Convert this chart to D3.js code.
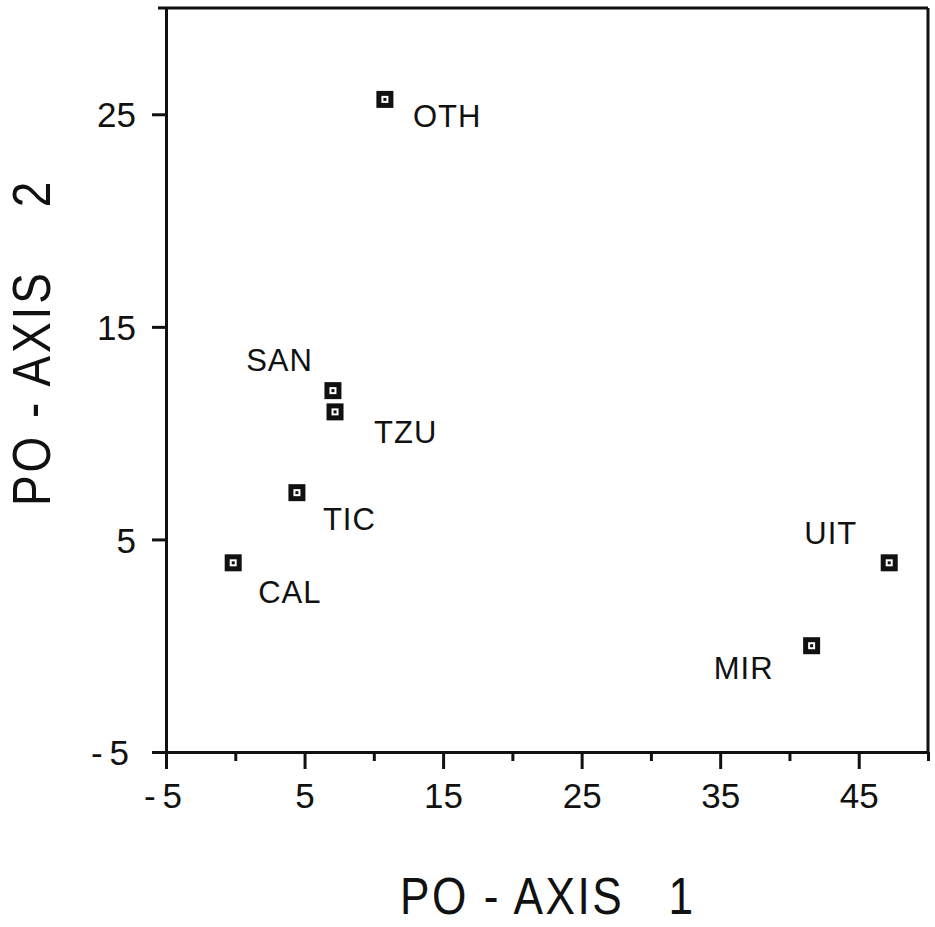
<!DOCTYPE html>
<html>
<head>
<meta charset="utf-8">
<script src="https://cdn.jsdelivr.net/npm/d3@7"></script>
<style>
  body { margin: 0; background: #fff; }
  svg text { font-family: "Liberation Sans", Arial, sans-serif; fill: #111; }
  .axis path, .axis line { stroke: #111; stroke-width: 3; }
</style>
</head>
<body>
<div id="container"></div>
<script>
// sites on the two polar ordination axes
const sites = ["OTH", "SAN", "TZU", "TIC", "CAL", "UIT", "MIR"];
const axis1 = [10.8, 7.05, 7.2, 4.45, -0.15, 47.2, 41.6];
const axis2 = [25.7, 12.0, 11.0, 7.2, 3.9, 3.9, 0.0];

const xMajor = [-5, 5, 15, 25, 35, 45];
const xMinor = [0, 10, 20, 30, 40, 50];
const yMajor = [-5, 5, 15, 25];

// where each label sits relative to its point
const labelPos = {
  OTH: { dx: 28, dy: 28, anchor: "start" },
  SAN: { dx: -20, dy: -20, anchor: "end" },
  TZU: { dx: 39, dy: 31, anchor: "start" },
  TIC: { dx: 26, dy: 37, anchor: "start" },
  CAL: { dx: 25, dy: 40, anchor: "start" },
  UIT: { dx: -32, dy: -19, anchor: "end" },
  MIR: { dx: -38, dy: 33, anchor: "end" }
};

const W = 935, H = 927;
const mLeft = 166, mRight = 928, mTop = 8, mBottom = 752;

const svg = d3.select("#container").append("svg")
  .attr("width", W)
  .attr("height", H);

const x = d3.scaleLinear().domain([-5, 50]).range([mLeft, mRight]);
const y = d3.scaleLinear().domain([-5, 30]).range([mBottom, mTop]);

// plain hyphen for negatives, like the old plotter output
const fmt = d => d < 0 ? "-" + Math.abs(d) : String(d);

// minor x ticks first, then the major axis on top
svg.append("g")
  .attr("class", "axis")
  .attr("transform", `translate(0,${mBottom})`)
  .call(d3.axisBottom(x).tickValues(xMinor).tickSize(9).tickSizeOuter(0).tickFormat(""));

const xAxis = svg.append("g")
  .attr("class", "axis")
  .attr("transform", `translate(0,${mBottom})`)
  .call(d3.axisBottom(x).tickValues(xMajor).tickSize(17).tickSizeOuter(0).tickPadding(14)
    .tickFormat(fmt));
xAxis.selectAll("text")
  .style("font-size", "35px")
  .style("letter-spacing", d => d < 0 ? "7px" : "0px");

const yAxis = svg.append("g")
  .attr("class", "axis")
  .attr("transform", `translate(${mLeft},0)`)
  .call(d3.axisLeft(y).tickValues(yMajor).tickSize(14).tickSizeOuter(0).tickPadding(16)
    .tickFormat(fmt));
yAxis.selectAll("text")
  .style("font-size", "35px")
  .style("letter-spacing", d => d < 0 ? "7px" : "0px")
  .attr("dy", "0.36em");

// top and right edges of the frame
svg.append("line")
  .attr("x1", mLeft - 8).attr("x2", mRight)
  .attr("y1", mTop).attr("y2", mTop)
  .attr("stroke", "#111").attr("stroke-width", 3);
svg.append("line")
  .attr("x1", mRight).attr("x2", mRight)
  .attr("y1", mTop).attr("y2", mBottom)
  .attr("stroke", "#111").attr("stroke-width", 3);

const pts = sites.map((s, i) => ({ name: s, a: axis1[i], b: axis2[i] }));

const g = svg.append("g").selectAll("g")
  .data(pts)
  .enter()
  .append("g")
  .attr("transform", d => `translate(${x(d.a)},${y(d.b)})`);

g.append("rect")
  .attr("x", -6).attr("y", -6)
  .attr("width", 12).attr("height", 12)
  .attr("fill", "#fff")
  .attr("stroke", "#111")
  .attr("stroke-width", 5);

g.append("rect")
  .attr("x", -1.5).attr("y", -1.5)
  .attr("width", 3).attr("height", 3)
  .attr("fill", "#111");

g.append("text")
  .attr("x", d => labelPos[d.name].dx)
  .attr("y", d => labelPos[d.name].dy)
  .attr("text-anchor", d => labelPos[d.name].anchor)
  .style("font-size", "31px")
  .style("letter-spacing", "1px")
  .text(d => d.name);

// axis titles, squeezed a little to get the tall narrow lettering
const xt = svg.append("text")
  .attr("transform", "translate(400,914) scale(0.85,1)")
  .style("font-size", "52px")
  .style("letter-spacing", "3px");
xt.append("tspan").text("PO - AXIS");
xt.append("tspan").attr("dx", 52).text("1");

const yt = svg.append("text")
  .attr("transform", "translate(50,506) rotate(-90) scale(0.85,1)")
  .style("font-size", "54px")
  .style("letter-spacing", "3.5px");
yt.append("tspan").text("PO - AXIS");
yt.append("tspan").attr("dx", 74).text("2");
</script>
</body>
</html>
